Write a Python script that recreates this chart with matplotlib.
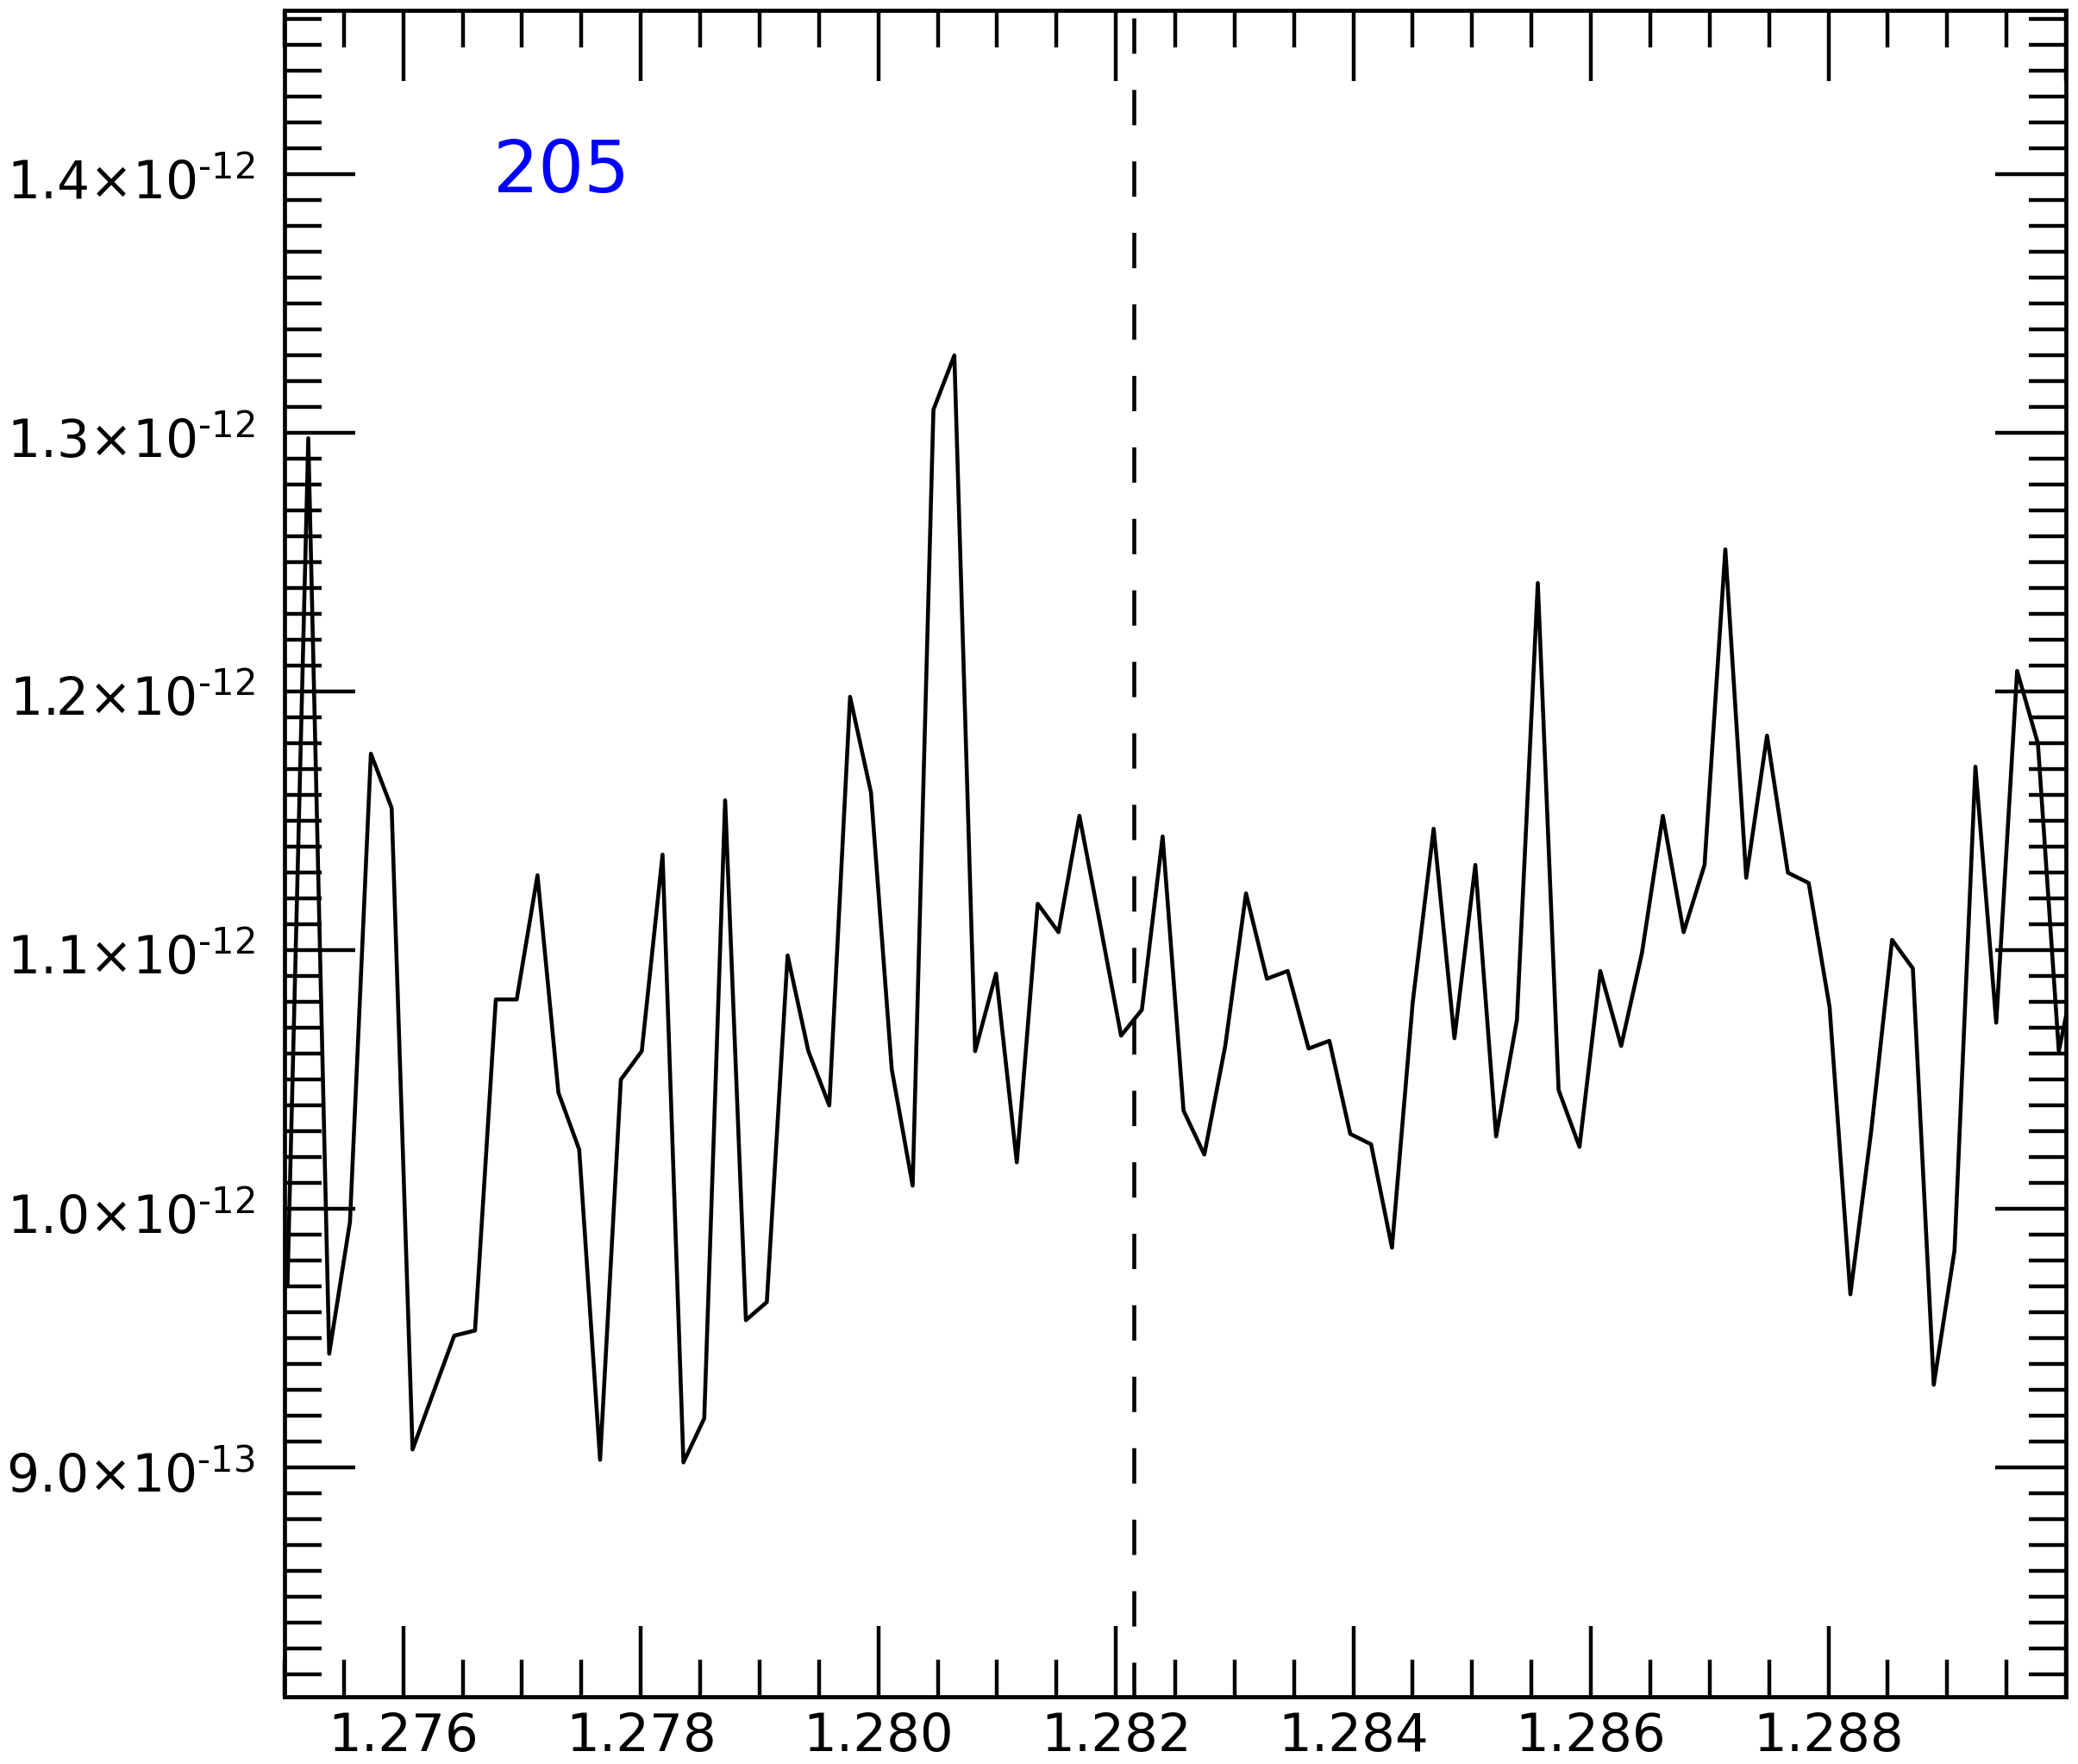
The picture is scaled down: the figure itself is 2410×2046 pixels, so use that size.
import numpy as np
import matplotlib
matplotlib.use("Agg")
import matplotlib.pyplot as plt
import matplotlib.transforms as mtransforms
from matplotlib.ticker import MultipleLocator, FuncFormatter

# wavelength grid
wave = [1.275025, 1.275200, 1.275376, 1.275551, 1.275727, 1.275902, 1.276078, 1.276253,
        1.276429, 1.276604, 1.276779, 1.276955, 1.277130, 1.277306, 1.277481, 1.277657,
        1.277832, 1.278008, 1.278183, 1.278359, 1.278534, 1.278710, 1.278885, 1.279061,
        1.279236, 1.279411, 1.279587, 1.279762, 1.279938, 1.280113, 1.280289, 1.280464,
        1.280640, 1.280815, 1.280991, 1.281166, 1.281342, 1.281517, 1.281693, 1.281868,
        1.282044, 1.282219, 1.282394, 1.282570, 1.282745, 1.282921, 1.283096, 1.283272,
        1.283447, 1.283623, 1.283798, 1.283974, 1.284149, 1.284325, 1.284500, 1.284676,
        1.284851, 1.285027, 1.285202, 1.285377, 1.285553, 1.285728, 1.285904, 1.286079,
        1.286255, 1.286430, 1.286606, 1.286781, 1.286957, 1.287132, 1.287308, 1.287483,
        1.287659, 1.287834, 1.288010, 1.288185, 1.288360, 1.288536, 1.288711, 1.288887,
        1.289062, 1.289238, 1.289413, 1.289589, 1.289764, 1.289940, 1.290115]

# flux in units of 1e-12
flux = [0.971, 1.298, 0.944, 0.995, 1.176, 1.155, 0.907, 0.929, 0.951, 0.953,
        1.081, 1.081, 1.129, 1.045, 1.023, 0.903, 1.050, 1.061, 1.137, 0.902,
        0.919, 1.158, 0.957, 0.964, 1.098, 1.061, 1.040, 1.198, 1.161, 1.054,
        1.009, 1.309, 1.330, 1.061, 1.091, 1.018, 1.118, 1.107, 1.152, 1.110,
        1.067, 1.077, 1.144, 1.038, 1.021, 1.063, 1.122, 1.089, 1.092, 1.062,
        1.065, 1.029, 1.025, 0.985, 1.080, 1.147, 1.066, 1.133, 1.028, 1.073,
        1.242, 1.046, 1.024, 1.092, 1.063, 1.099, 1.152, 1.107, 1.133, 1.255,
        1.128, 1.183, 1.130, 1.126, 1.078, 0.967, 1.030, 1.104, 1.093, 0.932,
        0.984, 1.171, 1.072, 1.208, 1.180, 1.061, 1.100]

line_center = 1.28215
label = "205"

xmin, xmax = 1.275, 1.290
ymin, ymax = 0.8114, 1.4634

plt.rcParams['lines.scale_dashes'] = False
plt.rcParams['font.family'] = ['DejaVu Sans']
plt.rcParams['mathtext.fontset'] = 'dejavusans'

fig = plt.figure(figsize=(24.1, 20.46), dpi=100)
ax = fig.add_axes([330/2410, 78/2046, 2066/2410, 1956/2046])

ax.plot(wave, flux, color='black', lw=3.3)
ax.plot([line_center, line_center], [ymax, ymin], color='black', lw=3.3,
        linestyle=(53.3, (29.5, 30.2)))

ax.set_xlim(xmin, xmax)
ax.set_ylim(ymin, ymax)

ax.xaxis.set_major_locator(MultipleLocator(0.002))
ax.xaxis.set_minor_locator(MultipleLocator(0.0005))
ax.yaxis.set_major_locator(MultipleLocator(0.1))
ax.yaxis.set_minor_locator(MultipleLocator(0.01))


def xfmt(v, p):
    # IDL leaves the label at the right edge off
    if v > xmax - 0.0002:
        return ""
    return "%.3f" % v


def yfmt(v, p):
    val = v * 1e-12
    e = int(np.floor(np.log10(val) + 1e-9))
    m = val / 10.0**e
    return "%.1f×10$^{\\text{-}%d}$" % (m, -e)


ax.xaxis.set_major_formatter(FuncFormatter(xfmt))
ax.yaxis.set_major_formatter(FuncFormatter(yfmt))

ax.tick_params(which='both', direction='in', top=True, right=True, width=3.2,
               color='black')
ax.tick_params(which='major', length=59)
ax.tick_params(which='minor', length=31)
ax.tick_params(axis='x', pad=12, labelsize=44)
ax.tick_params(axis='y', pad=25, labelsize=43)
for s in ax.spines.values():
    s.set_linewidth(3.4)

# nudge y labels down a little
shift = mtransforms.ScaledTranslation(0, -5/100, fig.dpi_scale_trans)
for t in ax.get_yticklabels():
    t.set_transform(t.get_transform() + shift)

ax.text(0.117, 0.892, label, transform=ax.transAxes, color='#0000ff',
        fontsize=60, ha='left', va='baseline')

fig.savefig('out.png', dpi=100)
